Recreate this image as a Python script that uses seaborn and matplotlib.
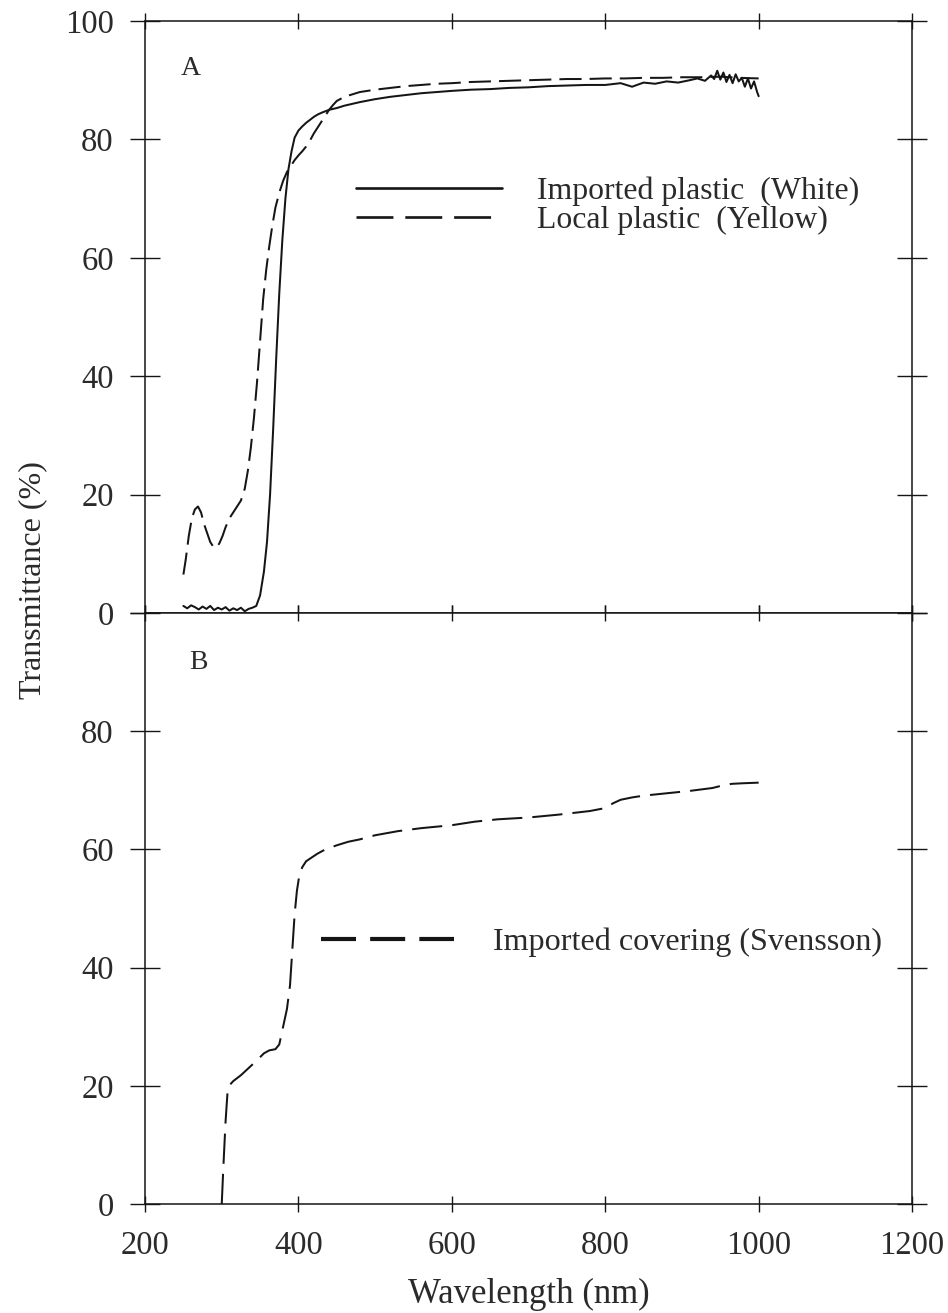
import numpy as np
import pandas as pd
import matplotlib
matplotlib.use("Agg")
import matplotlib.pyplot as plt
from matplotlib.lines import Line2D
import seaborn as sns

# ---- Panel A: plastic films ----
white_wl = [250, 255, 260, 265, 270, 275, 280, 285, 290, 295, 300, 305, 310, 315, 320, 325,
            330, 335, 340, 345, 350, 355, 359, 363, 367, 371, 375, 379, 383, 387, 391, 395,
            400, 405, 410, 415, 420, 425, 430, 440, 450, 460, 470, 480, 500, 520, 540, 560,
            580, 600, 625, 650, 675, 700, 725, 750, 775, 800, 820, 835, 850, 865, 880, 895,
            910, 920, 930, 938, 942, 946, 950, 954, 958, 962, 966, 970, 974, 978, 982, 986,
            990, 994, 998, 1000]
white_t = [1.2, 0.8, 1.3, 1.0, 0.6, 1.1, 0.7, 1.2, 0.5, 0.9, 0.6, 1.0, 0.4, 0.8, 0.5, 0.9,
           0.3, 0.7, 0.9, 1.2, 3, 7, 12, 20, 31, 43, 54, 63, 70, 75, 78, 80.3,
           81.5, 82.2, 82.8, 83.3, 83.8, 84.2, 84.5, 85.0, 85.3, 85.7, 86.0, 86.3, 86.8, 87.2, 87.5, 87.8,
           88.0, 88.2, 88.4, 88.5, 88.7, 88.8, 89.0, 89.1, 89.2, 89.2, 89.5, 88.9, 89.6, 89.4, 89.8, 89.6,
           90.0, 90.3, 89.9, 90.8, 90.2, 91.6, 90.1, 91.3, 89.7, 90.9, 89.5, 91.0, 89.8, 90.4, 88.9, 90.3,
           88.6, 89.8, 88.0, 87.3]

yellow_wl = [250, 253, 257, 261, 265, 269, 273, 277, 281, 285, 289, 293, 297, 301, 305, 310,
             315, 320, 325, 330, 334, 338, 342, 346, 350, 354, 358, 362, 366, 370, 375, 380,
             385, 390, 395, 400, 405, 410, 415, 420, 425, 430, 435, 440, 445, 450, 460, 470,
             480, 500, 520, 540, 560, 580, 600, 625, 650, 675, 700, 725, 750, 775, 800, 825,
             850, 875, 900, 925, 950, 975, 1000]
yellow_t = [6.5, 9, 13, 16, 17.5, 18, 17, 15, 13.5, 12, 11.2, 11, 11.8, 13, 14.5, 16,
            17, 18, 19, 21, 24, 28, 33, 39, 46, 53, 58, 62, 65.5, 68.5, 71, 73,
            74.5, 75.5, 76.5, 77.3, 78, 78.8, 79.8, 81, 82, 83, 84, 85, 85.8, 86.5, 87.2, 87.6,
            88, 88.4, 88.7, 89, 89.2, 89.4, 89.5, 89.7, 89.8, 89.9, 90, 90.1, 90.2, 90.2, 90.3, 90.3,
            90.4, 90.4, 90.5, 90.5, 90.6, 90.4, 90.3]

# ---- Panel B: imported covering ----
sven_wl = [300, 302, 305, 308, 315, 325, 335, 345, 355, 362, 370, 375, 380, 385, 389, 392,
           395, 398, 401, 405, 410, 418, 425, 435, 450, 465, 480, 500, 530, 560, 600, 630,
           660, 700, 740, 780, 800, 810, 820, 835, 850, 880, 910, 940, 955, 965, 980, 1000]
sven_t = [0, 6, 14, 19.8, 20.8, 21.8, 23, 24.2, 25.5, 26, 26.2, 27, 30, 33, 37, 43,
          49, 53, 55.5, 57, 58, 58.7, 59.3, 60, 60.7, 61.3, 61.7, 62.4, 63.1, 63.6, 64.1, 64.7,
          65.1, 65.4, 65.9, 66.5, 67, 67.8, 68.4, 68.8, 69.1, 69.5, 69.9, 70.4, 70.9, 71.1, 71.2, 71.3]

x_ticks = [200, 400, 600, 800, 1000, 1200]
y_ticks = [0, 20, 40, 60, 80, 100]
labels_a = ["Imported plastic  (White)", "Local plastic  (Yellow)"]
label_b = "Imported covering (Svensson)"

sns.set_theme(style="white")
plt.rcParams["font.family"] = ["Liberation Serif", "DejaVu Serif"]
plt.rcParams["axes.edgecolor"] = "#111111"
plt.rcParams["axes.linewidth"] = 1.1

INK = "#151515"
TXT = "#2a2a2a"

fig = plt.figure(figsize=(9.48, 13.13), dpi=100)
axA = fig.add_axes([0.1530, 0.5331, 0.8091, 0.4509])
axB = fig.add_axes([0.1530, 0.0830, 0.8091, 0.4501])

df_w = pd.DataFrame({"wl": white_wl, "T": white_t})
df_y = pd.DataFrame({"wl": yellow_wl, "T": yellow_t})
df_s = pd.DataFrame({"wl": sven_wl, "T": sven_t})

sns.lineplot(data=df_w, x="wl", y="T", ax=axA, color=INK, lw=1.45, sort=False, estimator=None)
sns.lineplot(data=df_y, x="wl", y="T", ax=axA, color=INK, lw=1.45, sort=False, estimator=None,
             linestyle=(0, (11, 4)))
sns.lineplot(data=df_s, x="wl", y="T", ax=axB, color=INK, lw=1.45, sort=False, estimator=None,
             linestyle=(0, (15, 5)))

for ax in (axA, axB):
    ax.set_xlim(200, 1200)
    ax.set_ylim(0, 100)
    ax.set_xticks(x_ticks)
    ax.set_yticks(y_ticks)
    ax.set_xlabel("")
    ax.set_ylabel("")
    ax.tick_params(axis="y", direction="inout", length=21, width=1.0, left=True, right=True,
                   labelsize=23.5, pad=12, color=INK, labelcolor=TXT)
    ax.tick_params(axis="x", direction="inout", length=11, width=1.0, top=True, bottom=True,
                   labelsize=23.5, pad=13.5, color=INK, labelcolor=TXT)
    for s in ax.spines.values():
        s.set_visible(True)
        s.set_color(INK)

axA.tick_params(axis="x", labelbottom=False)
axB.set_yticklabels(["0", "20", "40", "60", "80", ""])
axB.set_xticklabels([str(v) for v in x_ticks])

axB.set_xlabel("Wavelength (nm)", fontsize=25, color=TXT, labelpad=12)
fig.text(0.035, 0.558, "Transmittance (%)", rotation=90, ha="center", va="center",
         fontsize=23, color=TXT)

axA.text(0.06, 0.92, "A", transform=axA.transAxes, fontsize=20, color=TXT,
         ha="center", va="center")
axB.text(0.069, 0.917, "B", transform=axB.transAxes, fontsize=20, color=TXT,
         ha="center", va="center")

handles_a = [Line2D([], [], color=INK, lw=1.9),
             Line2D([], [], color=INK, lw=1.9, linestyle=(0, (14, 4.5)))]
axA.legend(handles_a, labels_a, loc="center left", bbox_to_anchor=(0.275, 0.688),
           frameon=False, fontsize=22.9, handlelength=4.6, handletextpad=1.1,
           borderpad=0, borderaxespad=0, labelspacing=0.0, labelcolor=TXT)

handles_b = [Line2D([], [], color=INK, lw=3.0, linestyle=(0, (8.4, 3.4)))]
axB.legend(handles_b, [label_b], loc="center left", bbox_to_anchor=(0.229, 0.443),
           frameon=False, fontsize=23.1, handlelength=4.17, handletextpad=1.2,
           borderpad=0, borderaxespad=0, labelcolor=TXT)

fig.savefig("out.png", dpi=100)
